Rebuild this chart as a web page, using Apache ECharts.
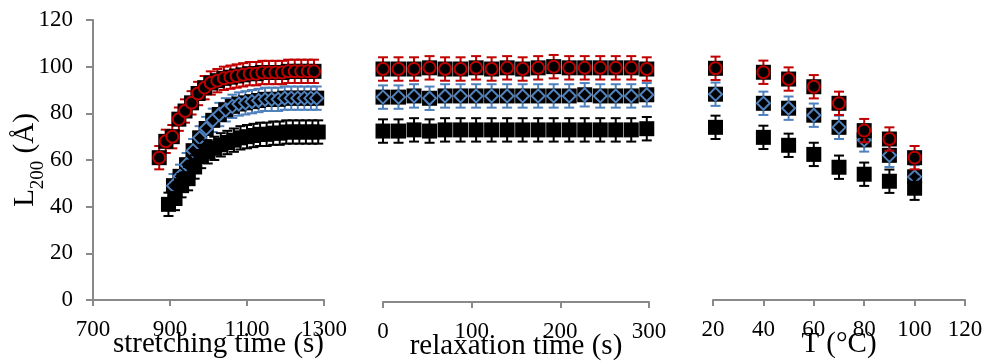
<!DOCTYPE html>
<html>
<head>
<meta charset="utf-8">
<script src="https://cdn.jsdelivr.net/npm/echarts@6/dist/echarts.min.js"></script>
<style>
html,body{margin:0;padding:0;background:#fff;}
#chart{width:984px;height:363px;}
</style>
</head>
<body>
<div id="chart"></div>
<script>
// ---- Data ----
// Panel 1: stretching time (s)
const stretchTimeRed  = [872, 889, 906, 923, 939, 956, 973, 990, 1006, 1023, 1040, 1057, 1073, 1090, 1107, 1124, 1140, 1157, 1174, 1191, 1207, 1224, 1241, 1258, 1274];
const stretchRed      = [61, 68, 70, 77.5, 81, 84.5, 88.5, 91, 93, 94, 95, 95.5, 96, 96.5, 97, 97, 97.5, 97.5, 97.5, 97.5, 98, 98, 98, 98, 98];
const stretchTimeBlue = [909, 926, 943, 960, 977, 994, 1011, 1028, 1045, 1062, 1079, 1096, 1113, 1130, 1147, 1164, 1181, 1198, 1215, 1232, 1249, 1266, 1281];
const stretchBlue     = [49, 53, 58, 64, 69.5, 73.5, 77, 79.5, 81.5, 83, 84, 84.5, 85, 85.5, 86, 86, 86, 86.5, 86.5, 86.5, 86.5, 86.5, 86.5];
const stretchTimeBlack= [896, 913, 930, 947, 964, 981, 998, 1015, 1032, 1049, 1066, 1083, 1100, 1117, 1134, 1151, 1168, 1185, 1202, 1219, 1236, 1253, 1270, 1285];
const stretchBlack    = [41, 43.5, 49, 52, 57, 61.5, 63.5, 65, 66.5, 67.5, 68.5, 69.5, 70, 70.5, 71, 71, 71.5, 71.5, 72, 72, 72, 72, 72, 72];

// Panel 2: relaxation time (s)
const relaxTime  = [0, 17.5, 35, 52.5, 70, 87.5, 105, 122.5, 140, 157.5, 175, 192.5, 210, 227.5, 245, 262.5, 280, 297.5];
const relaxRed   = [99.5, 99.5, 99.5, 100, 99.5, 99.5, 100, 99.5, 100, 99.5, 100, 100.5, 100, 100, 100, 100, 100, 99.5];
const relaxBlue  = [87.5, 87.5, 88, 87, 88, 88, 88, 88, 88, 88, 88, 88, 88, 88.5, 88, 88, 88, 88.5];
const relaxBlack = [73, 73, 73.5, 73, 73.5, 73.5, 73.5, 73.5, 73.5, 73.5, 73.5, 73.5, 73.5, 73.5, 73.5, 73.5, 73.5, 74];

// Panel 3: temperature (°C)
const tempT     = [21, 40, 50, 60, 70, 80, 90, 100];
const tempRed   = [99.3, 97.6, 94.7, 91.4, 84.3, 72.6, 69, 61];
const tempBlue  = [88.2, 84.3, 82.2, 79.2, 74, 68.6, 62, 52.8];
const tempBlack = [74, 69.7, 66.3, 62.4, 56.9, 53.9, 50.9, 47.9];

// Error bar half-widths (Å)
const errRed = 5, errBlue = 5, errBlack = 5;

// Axis ticks
const yTicks = {min: 0, max: 120, interval: 20};
const xStretch = {min: 700, max: 1300, interval: 200};
const xRelax = {min: 0, max: 300, interval: 100};
const xTemp = {min: 20, max: 120, interval: 20};

// ---- Styles ----
const RED = '#c00000', BLUE = '#4f81bd', BLACK = '#000000', AXIS = '#898989';
const FONT = 'Liberation Serif';

function errSeries(xs, ys, err, color, idx, z) {
  return {
    type: 'custom', xAxisIndex: idx, yAxisIndex: idx, z: z, silent: true,
    data: xs.map((x, i) => [x, ys[i] - err, ys[i] + err]),
    encode: {x: 0, y: [1, 2]},
    renderItem: function (params, api) {
      const x = api.value(0);
      const p1 = api.coord([x, api.value(2)]);
      const p2 = api.coord([x, api.value(1)]);
      const w = 5;
      const st = {stroke: color, lineWidth: 2};
      return {type: 'group', children: [
        {type: 'line', shape: {x1: p1[0], y1: p1[1], x2: p2[0], y2: p2[1]}, style: st},
        {type: 'line', shape: {x1: p1[0] - w, y1: p1[1], x2: p1[0] + w, y2: p1[1]}, style: st},
        {type: 'line', shape: {x1: p2[0] - w, y1: p2[1], x2: p2[0] + w, y2: p2[1]}, style: st}
      ]};
    }
  };
}
function sqSeries(xs, ys, idx, z) {
  return {
    type: 'scatter', xAxisIndex: idx, yAxisIndex: idx, z: z, silent: true,
    symbol: 'rect', symbolSize: 15,
    itemStyle: {color: BLACK, opacity: 1},
    data: xs.map((x, i) => [x, ys[i]])
  };
}
function markSeries(xs, ys, idx, z, symbol, border, size) {
  return {
    type: 'scatter', xAxisIndex: idx, yAxisIndex: idx, z: z, silent: true,
    symbol: symbol, symbolSize: size,
    itemStyle: {color: BLACK, borderColor: border, borderWidth: 2, opacity: 1},
    data: xs.map((x, i) => [x, ys[i]])
  };
}
function panel(idx, xs, red, xsB, blue, xsK, black) {
  return [
    errSeries(xsB, blue, errBlue, BLUE, idx, 2),
    sqSeries(xsB, blue, idx, 3),
    markSeries(xsB, blue, idx, 4, 'diamond', BLUE, 13),
    errSeries(xsK, black, errBlack, BLACK, idx, 5),
    sqSeries(xsK, black, idx, 6),
    errSeries(xs, red, errRed, RED, idx, 7),
    sqSeries(xs, red, idx, 8),
    markSeries(xs, red, idx, 9, 'circle', RED, 12)
  ];
}

const labelStyle = {color: '#000', fontFamily: FONT, fontSize: 23};

function xAxisDef(idx, range, name, namePad) {
  return {
    type: 'value', gridIndex: idx, min: range.min, max: range.max, interval: range.interval,
    splitLine: {show: false},
    axisLine: {show: true, onZero: false, lineStyle: {color: AXIS, width: 2}},
    axisTick: {show: true, length: 6, lineStyle: {color: AXIS, width: 2}},
    axisLabel: Object.assign({margin: 18, formatter: function (v) { return String(v); }}, labelStyle),
    name: name, nameLocation: 'middle', nameGap: 30, nameMoveOverlap: false,
    nameTextStyle: {color: '#000', fontFamily: FONT, fontSize: 29, padding: namePad}
  };
}
function yAxisDef(idx, show) {
  return {
    type: 'value', gridIndex: idx, min: yTicks.min, max: yTicks.max, interval: yTicks.interval,
    show: show,
    splitLine: {show: false},
    axisLine: {show: true, lineStyle: {color: AXIS, width: 2}},
    axisTick: {show: true, length: 7, lineStyle: {color: AXIS, width: 2}},
    axisLabel: Object.assign({margin: 20, formatter: function (v) { return String(v); }}, labelStyle),
    name: show ? '{a|L}{s|200}{a| (Å)}' : '',
    nameLocation: 'middle', nameRotate: 90, nameGap: 53, nameMoveOverlap: false,
    nameTextStyle: {
      color: '#000',
      rich: {
        a: {fontFamily: FONT, fontSize: 29, color: '#000', verticalAlign: 'bottom', lineHeight: 30},
        s: {fontFamily: FONT, fontSize: 19, color: '#000', verticalAlign: 'bottom', lineHeight: 30, padding: [0, 0, -8, 0]}
      }
    }
  };
}

const chart = echarts.init(document.getElementById('chart'), null, {renderer: 'canvas'});
chart.setOption({
  animation: false,
  backgroundColor: '#fff',
  textStyle: {fontFamily: FONT, fontSize: 23},
  grid: [
    {left: 93, width: 231, top: 20, height: 280, containLabel: false, outerBoundsMode: 'none'},
    {left: 383, width: 266, top: 21, height: 281, containLabel: false, outerBoundsMode: 'none'},
    {left: 713, width: 252, top: 20, height: 280, containLabel: false, outerBoundsMode: 'none'}
  ],
  xAxis: [
    xAxisDef(0, xStretch, 'stretching time (s)', [0, 0, 0, 20]),
    xAxisDef(1, xRelax, 'relaxation time (s)', [0, 0, 0, 0]),
    xAxisDef(2, xTemp, 'T (°C)', [0, 0, 0, 0])
  ],
  yAxis: [yAxisDef(0, true), yAxisDef(1, false), yAxisDef(2, false)],
  series: [].concat(
    panel(0, stretchTimeRed, stretchRed, stretchTimeBlue, stretchBlue, stretchTimeBlack, stretchBlack),
    panel(1, relaxTime, relaxRed, relaxTime, relaxBlue, relaxTime, relaxBlack),
    panel(2, tempT, tempRed, tempT, tempBlue, tempT, tempBlack)
  )
});
</script>
</body>
</html>
